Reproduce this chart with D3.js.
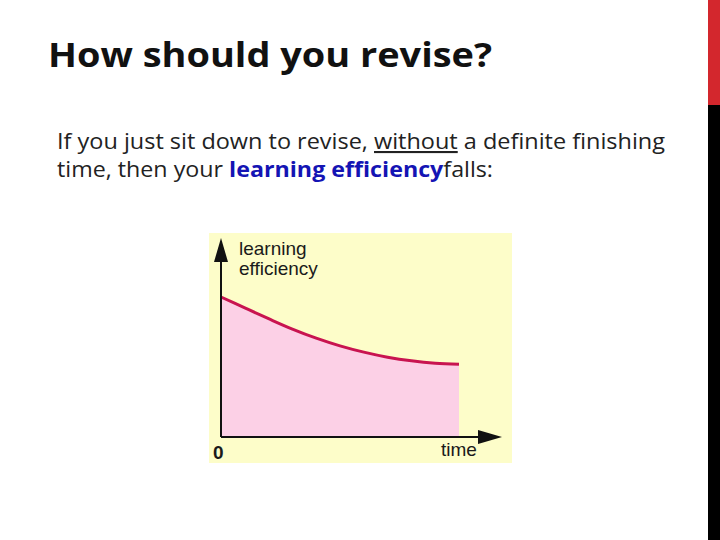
<!DOCTYPE html>
<html>
<head>
<meta charset="utf-8">
<script src="https://cdn.jsdelivr.net/npm/d3@7"></script>
<style>
  html, body { margin: 0; padding: 0; background: #fff; }
  svg { display: block; }
</style>
</head>
<body>
<svg width="720" height="540"></svg>
<script>
// values (efficiency in % of the starting level)
var times = [0, 1, 2, 3, 4, 5, 6, 7, 8, 9, 10];
var efficiency = [100, 92.2, 84.5, 77.1, 70.6, 65.1, 60.6, 57.0, 54.4, 52.7, 52];

var titleText = "How should you revise?";
var lineOne = ["If you just sit down to revise, ", "without", " a definite finishing"];
var lineTwo = ["time, then your ", "learning efficiency", "falls:"];
var yLabel = ["learning", "efficiency"];
var xLabel = "time";
var originLabel = "0";

var svg = d3.select("svg");

// slide accent bar on the right
svg.append("rect").attr("x", 708).attr("y", 0).attr("width", 12).attr("height", 105).attr("fill", "#d3272d");
svg.append("rect").attr("x", 708).attr("y", 105).attr("width", 12).attr("height", 435).attr("fill", "#000");

svg.append("text")
    .attr("x", 48).attr("y", 67)
    .attr("font-family", "Open Sans, sans-serif")
    .attr("font-weight", "bold")
    .attr("font-size", 34)
    .attr("fill", "#111")
    .attr("textLength", 444)
    .attr("lengthAdjust", "spacingAndGlyphs")
    .text(titleText);

var t1 = svg.append("text")
    .attr("x", 57).attr("y", 149)
    .attr("font-family", "Open Sans, sans-serif")
    .attr("font-size", 21)
    .attr("fill", "#222")
    .attr("textLength", 608)
    .attr("lengthAdjust", "spacingAndGlyphs");
t1.append("tspan").text(lineOne[0]);
t1.append("tspan").attr("text-decoration", "underline").text(lineOne[1]);
t1.append("tspan").text(lineOne[2]);

var t2 = svg.append("text")
    .attr("x", 57).attr("y", 177)
    .attr("font-family", "Open Sans, sans-serif")
    .attr("font-size", 21)
    .attr("fill", "#222")
    .attr("textLength", 436)
    .attr("lengthAdjust", "spacingAndGlyphs");
t2.append("tspan").text(lineTwo[0]);
t2.append("tspan").attr("font-weight", "bold").attr("fill", "#1414b4").text(lineTwo[1]);
t2.append("tspan").text(lineTwo[2]);

// chart
var x = d3.scaleLinear().domain([0, 10]).range([221, 459]);
var y = d3.scaleLinear().domain([0, 100]).range([437, 297]);

var g = svg.append("g");

g.append("rect")
    .attr("x", x(0) - 12).attr("y", y(100) - 64)
    .attr("width", 303).attr("height", 230)
    .attr("fill", "#fdfdc9");

var area = d3.area()
    .x(function(d, i) { return x(times[i]); })
    .y0(y(0))
    .y1(function(d) { return y(d); })
    .curve(d3.curveCatmullRom);

var line = d3.line()
    .x(function(d, i) { return x(times[i]); })
    .y(function(d) { return y(d); })
    .curve(d3.curveCatmullRom);

g.append("path")
    .datum(efficiency)
    .attr("fill", "#fcd0e6")
    .attr("d", area);

g.append("path")
    .datum(efficiency)
    .attr("fill", "none")
    .attr("stroke", "#c81450")
    .attr("stroke-width", 3)
    .attr("d", line);

// axes with arrow heads
var ax0 = x(0), ay0 = y(0);
g.append("line")
    .attr("x1", ax0).attr("y1", ay0).attr("x2", ax0).attr("y2", 255)
    .attr("stroke", "#111").attr("stroke-width", 2);
g.append("path")
    .attr("d", "M" + ax0 + ",238L" + (ax0 - 7) + ",262L" + (ax0 + 7) + ",262Z")
    .attr("fill", "#111");
g.append("line")
    .attr("x1", ax0).attr("y1", ay0).attr("x2", 485).attr("y2", ay0)
    .attr("stroke", "#111").attr("stroke-width", 2);
g.append("path")
    .attr("d", "M502," + ay0 + "L478," + (ay0 - 7) + "L478," + (ay0 + 7) + "Z")
    .attr("fill", "#111");

var lab = g.append("text")
    .attr("font-family", "Liberation Sans, Arial, sans-serif")
    .attr("font-size", 19)
    .attr("fill", "#1a1a1a");
lab.selectAll("tspan")
    .data(yLabel)
    .join("tspan")
    .attr("x", 239)
    .attr("y", function(d, i) { return 255 + i * 20; })
    .text(function(d) { return d; });

g.append("text")
    .attr("x", 441).attr("y", 456)
    .attr("font-family", "Liberation Sans, Arial, sans-serif")
    .attr("font-size", 19)
    .attr("fill", "#1a1a1a")
    .text(xLabel);

g.append("text")
    .attr("x", 213).attr("y", 459)
    .attr("font-family", "Liberation Sans, Arial, sans-serif")
    .attr("font-weight", "bold")
    .attr("font-size", 19)
    .attr("fill", "#1a1a1a")
    .text(originLabel);
</script>
</body>
</html>
